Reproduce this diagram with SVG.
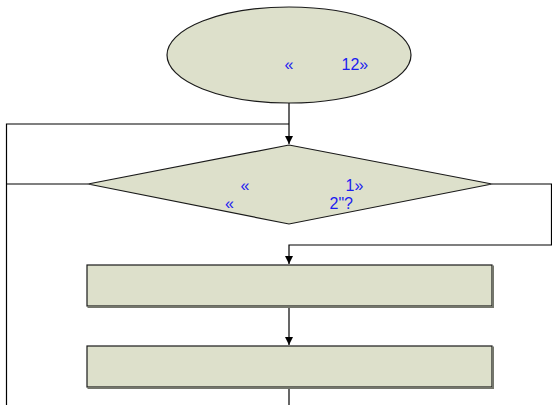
<svg xmlns="http://www.w3.org/2000/svg" width="552" height="405" viewBox="0 0 552 405">
<defs>
<style>
.shape{fill:#dde0cb;stroke:#1a1a1a;stroke-width:1.2}
.shadow{fill:none;stroke:#74766c;stroke-width:2}
.conn{fill:none;stroke:#000;stroke-width:1.2}
.lbl{font-family:"Liberation Sans",Arial,sans-serif;font-size:16px;fill:#1c1cf0}
</style>
<marker id="arr" viewBox="0 0 10 10" refX="10" refY="5" markerWidth="8" markerHeight="11" markerUnits="userSpaceOnUse" orient="auto">
<path d="M0,0 L10,5 L0,10 z" fill="#000"/>
</marker>
</defs>
<rect width="552" height="405" fill="#fff"/>
<g id="connectors">
<path class="conn" d="M289,103 V144" marker-end="url(#arr)"/>
<path class="conn" d="M6.5,405 V124 H289"/>
<path class="conn" d="M88,184 H6.5"/>
<path class="conn" d="M492,184 H551.5 V245 H289 V264" marker-end="url(#arr)"/>
<path class="conn" d="M289,306 V345" marker-end="url(#arr)"/>
<path class="conn" d="M289,388 V405"/>
</g>
<g id="start">
<ellipse class="shape" cx="289" cy="55" rx="122" ry="48"/>
<text class="lbl" x="284.5" y="70">«</text>
<text class="lbl" x="341.5" y="70">12»</text>
</g>
<g id="decision">
<polygon class="shape" points="289,145 492,184 289,224 88,184"/>
<text class="lbl" x="240.5" y="190.5">«</text>
<text class="lbl" x="345.5" y="190.5">1»</text>
<text class="lbl" x="225" y="209">«</text>
<text class="lbl" x="329.5" y="209">2"?</text>
</g>
<g id="process1">
<rect class="shape" x="87" y="265" width="405" height="41"/>
<path class="shadow" d="M87.5,307 H493 V265.5"/>
</g>
<g id="process2">
<rect class="shape" x="87" y="346" width="405" height="41"/>
<path class="shadow" d="M87.5,388 H493 V346.5"/>
</g>
</svg>
